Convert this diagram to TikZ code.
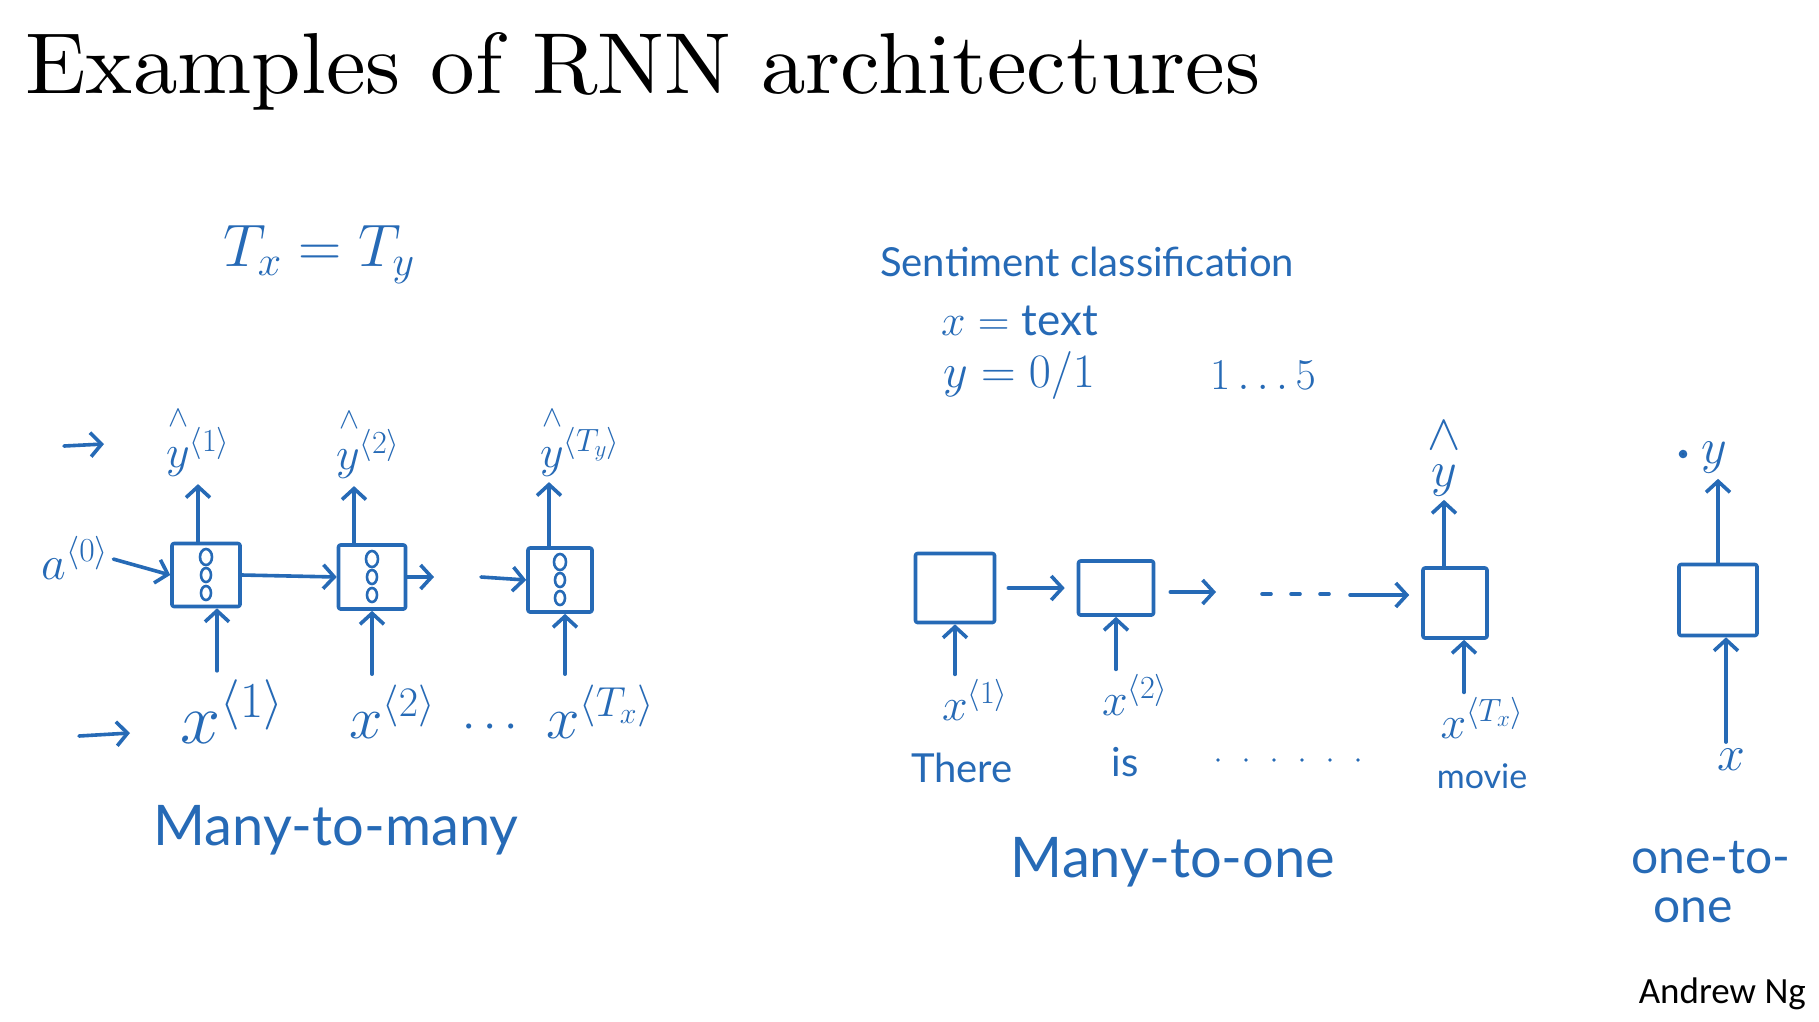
\RequirePackage{fix-cm}
\documentclass[tikz,border=0pt]{standalone}
\usepackage{fontspec}
\usetikzlibrary{arrows.meta}
\newfontfamily\hand{Lato}
\newfontfamily\ngfont{Carlito}
\newcommand\fsz[1]{\fontsize{#1}{#1}\selectfont}
\definecolor{pen}{RGB}{38,106,182}
\tikzset{
  pen/.style={draw=pen, line width=3.6pt, line cap=round, line join=round},
  arr/.style={pen, -{Straight Barb[length=11pt,width=24pt]}},
  cell/.style={pen, inner sep=0pt, rounded corners=2pt},
  lab/.style={text=pen, inner sep=1pt},
  hatlab/.style={text=pen, inner sep=0pt, font=\fsz{30}},
  unit/.style={draw=pen, line width=2.6pt},
}
\begin{document}
\begin{tikzpicture}[x=1pt,y=-1pt]
\useasboundingbox[fill=white] (0,0) rectangle (1819,1021);
% title
\node[anchor=base west, inner sep=0pt] (title) at (25,93)
  {\resizebox{1234pt}{61pt}{Examples of RNN architectures}};
\node[anchor=base east, inner sep=0pt] (ng) at (1806,1003) {\ngfont\fsz{37}Andrew Ng};

% ---------------- many-to-many ----------------
\node[lab] (txty) at (319,255) {\fsz{60}$T_x = T_y$};
\coordinate (la1) at (64,446); \coordinate (la2) at (104,444);
\draw[arr] (la1) -- (la2);
\coordinate (lb1) at (79,736); \coordinate (lb2) at (130,733);
\draw[arr] (lb1) -- (lb2);

\node[cell, draw, minimum width=68pt, minimum height=63pt] (b1) at (206,575) {};
\node[cell, draw, minimum width=67pt, minimum height=64pt] (b2) at (372,577) {};
\node[cell, draw, minimum width=64pt, minimum height=64pt] (b3) at (560,580) {};
\foreach \b in {b1,b2,b3}{
  \draw[unit] ([yshift=18pt]\b.center) ellipse (6pt and 8pt);
  \draw[unit] (\b.center) ellipse (5pt and 7pt);
  \draw[unit] ([yshift=-18pt]\b.center) ellipse (5pt and 7pt);
}
\node[lab] (a0) at (75,558) {\fsz{48}$a^{\langle 0\rangle}$};
\node[lab] (yh1) at (198,452) {\fsz{46}$y^{\langle 1\rangle}$};
\node[lab] (yh2) at (368,454) {\fsz{46}$y^{\langle 2\rangle}$};
\node[lab] (yh3) at (580,452) {\fsz{46}$y^{\langle T_y\rangle}$};
\node[hatlab] (hat1) at (178,418) {$\wedge$};
\node[hatlab] (hat2) at (349,420) {$\wedge$};
\node[hatlab] (hat3) at (552,418) {$\wedge$};
\node[lab] (x1) at (232,712) {\fsz{72}$x^{\langle 1\rangle}$};
\node[lab] (x2) at (392,712) {\fsz{60}$x^{\langle 2\rangle}$};
\node[lab] (dots1) at (490,728) {\fsz{48}$\cdots$};
\node[lab] (x3) at (600,712) {\fsz{60}$x^{\langle T_x\rangle}$};

\draw[arr, shorten <=4pt] (a0.east) -- (b1.west);
\draw[arr] (b1.east) -- (b2.west);
\coordinate (b2out) at (434,577);
\draw[arr] (b2.east) -- (b2out);
\coordinate (b3in) at (481,577);
\draw[arr] (b3in) -- (b3.west);
\draw[arr, shorten >=6pt] ([xshift=-8pt]b1.north) -- ([xshift=-8pt]b1.north |- yh1.south);
\draw[arr, shorten >=6pt] ([xshift=-18pt]b2.north) -- ([xshift=-18pt]b2.north |- yh2.south);
\draw[arr, shorten >=4pt] ([xshift=-11pt]b3.north) -- ([xshift=-11pt]b3.north |- yh3.south);
\draw[arr, shorten <=8pt] ([xshift=11pt]b1.south |- x1.north) -- ([xshift=11pt]b1.south);
\draw[arr, shorten <=10pt] (b2.south |- x2.north) -- (b2.south);
\draw[arr, shorten <=10pt] ([xshift=5pt]b3.south |- x3.north) -- ([xshift=5pt]b3.south);

\node[lab] (m2m) at (336,830) {\hand\fsz{56}Many-to-many};

% ---------------- many-to-one ----------------
\node[lab, anchor=west] (sent) at (879,262) {\hand\fsz{40}Sentiment classification};
\node[lab, anchor=west] (xtext) at (940,321) {\fsz{44}$x = \mbox{\hand text}$};
\node[lab, anchor=west] (y01) at (942,375) {\fsz{48}$y = 0/1$};
\node[lab] (one5) at (1263,375) {\fsz{44}$1\ldots5$};

\node[cell, draw, minimum width=79pt, minimum height=69pt] (bA) at (955,588) {};
\node[cell, draw, minimum width=75pt, minimum height=54pt] (bB) at (1116,588) {};
\node[cell, draw, minimum width=64pt, minimum height=70pt] (bC) at (1455,603) {};
\draw[arr, shorten <=12pt, shorten >=12pt] (bA.east) -- (bB.west);
\coordinate (bBout) at (1216,592);
\draw[arr, shorten <=15pt] (bB.east |- bBout) -- (bBout);
\coordinate (dA) at (1262,594); \coordinate (dB) at (1340,594);
\draw[pen, dash pattern=on 9pt off 20pt] (dA) -- (dB);
\coordinate (dC) at (1350,595);
\draw[arr, shorten >=12pt] (dC) -- (bC.west |- dC);

\node[lab] (yC) at (1444,481) {\fsz{50}$y$};
\node[lab] (hatC) at (1444,436) {\fsz{50}$\wedge$};
\draw[arr, shorten >=2pt] ([xshift=-11pt]bC.north) -- ([xshift=-11pt]bC.north |- yC.south);

\node[lab] (xA) at (975,700) {\fsz{46}$x^{\langle 1\rangle}$};
\node[lab] (xB) at (1135,695) {\fsz{46}$x^{\langle 2\rangle}$};
\node[lab] (xC) at (1482,718) {\fsz{46}$x^{\langle T_x\rangle}$};
\draw[arr, shorten <=4pt] (bA.south |- xA.north) -- (bA.south);
\draw[arr, shorten <=4pt] (bB.south |- xB.north) -- (bB.south);
\draw[arr, shorten <=4pt] ([xshift=9pt]bC.south |- xC.north) -- ([xshift=9pt]bC.south);

\node[lab] (there) at (962,768) {\hand\fsz{40}There};
\node[lab] (is) at (1125,762) {\hand\fsz{40}is};
\coordinate (eA) at (1218,760); \coordinate (eB) at (1360,760);
\draw[pen, line width=3.8pt, dash pattern=on 0pt off 28pt] (eA) -- (eB);
\node[lab] (movie) at (1482,776) {\hand\fsz{34}movie};
\node[lab] (m2o) at (1173,862) {\hand\fsz{56}Many-to-one};

% ---------------- one-to-one ----------------
\node[cell, draw, minimum width=78pt, minimum height=71pt] (bD) at (1718,600) {};
\node[lab] (yD) at (1714,458) {\fsz{50}$y$};
\coordinate (dotD) at (1683,454);
\fill[pen] (dotD) circle (2.4pt);
\draw[arr, shorten >=4pt] (bD.north) -- (bD.north |- yD.south);
\node[lab] (xD) at (1731,760) {\fsz{50}$x$};
\draw[arr, shorten <=6pt] ([xshift=8pt]bD.south |- xD.north) -- ([xshift=8pt]bD.south);
\node[lab] (o2o1) at (1711,858) {\hand\fsz{48}one-to-};
\node[lab] (o2o2) at (1693,910) {\hand\fsz{48}one};
\end{tikzpicture}
\end{document}
